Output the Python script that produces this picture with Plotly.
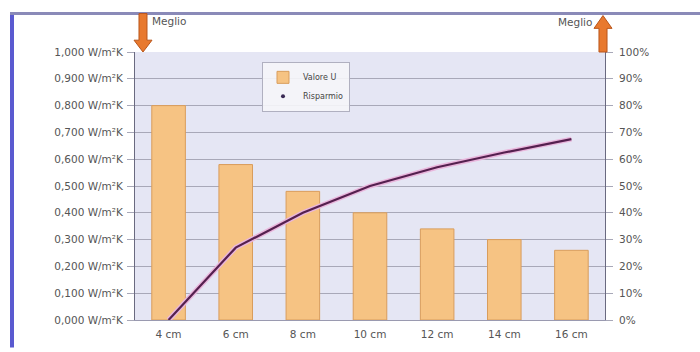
import plotly.graph_objects as go

# Insulation thickness vs. transmittance and savings
spessori = ["4 cm", "6 cm", "8 cm", "10 cm", "12 cm", "14 cm", "16 cm"]
valore_u = [0.80, 0.58, 0.48, 0.40, 0.34, 0.30, 0.26]          # W/m²K
risparmio = [0, 27, 40, 50, 57, 62.5, 67.5]                    # %

u_ticks = [0.0, 0.1, 0.2, 0.3, 0.4, 0.5, 0.6, 0.7, 0.8, 0.9, 1.0]
u_labels = ["0,000 W/m²K", "0,100 W/m²K", "0,200 W/m²K", "0,300 W/m²K",
            "0,400 W/m²K", "0,500 W/m²K", "0,600 W/m²K", "0,700 W/m²K",
            "0,800 W/m²K", "0,900 W/m²K", "1,000 W/m²K"]
pct_ticks = [0, 10, 20, 30, 40, 50, 60, 70, 80, 90, 100]
pct_labels = ["0%", "10%", "20%", "30%", "40%", "50%", "60%", "70%",
              "80%", "90%", "100%"]

W, H = 700, 352
L, R, T, B = 135, 95, 52, 28
PW, PH = W - L - R, H - T - B


def px(x, y):
    """Pixel position -> paper coordinates."""
    return (x - L) / PW, (H - B - y) / PH


def path(points):
    parts = []
    for i, (x, y) in enumerate(points):
        u, v = px(x, y)
        parts.append(("M" if i == 0 else "L") + f"{u:.4f},{v:.4f}")
    return " ".join(parts) + " Z"


FONT = "DejaVu Sans, Verdana, sans-serif"
axis_font = dict(family=FONT, size=10.5, color="#555")

fig = go.Figure()

fig.add_trace(go.Bar(
    x=spessori, y=valore_u, name="Valore U", width=0.5,
    marker=dict(color="#f6c383", line=dict(color="#d99d5c", width=1)),
    yaxis="y",
))
fig.add_trace(go.Scatter(
    x=spessori, y=risparmio, mode="lines", showlegend=False,
    line=dict(color="#e9b6dc", width=5), yaxis="y2", hoverinfo="skip",
))
fig.add_trace(go.Scatter(
    x=spessori, y=risparmio, mode="lines", name="Risparmio",
    showlegend=False, line=dict(color="#55204f", width=2.2), yaxis="y2",
))
fig.add_trace(go.Scatter(
    x=[None], y=[None], mode="markers", name="Risparmio",
    marker=dict(color="#3a2a55", size=4), yaxis="y2",
))

fig.update_layout(
    width=W, height=H,
    margin=dict(l=L, r=R, t=T, b=B),
    paper_bgcolor="white",
    plot_bgcolor="#e5e6f4",
    font=axis_font,
    xaxis=dict(
        type="category", showgrid=False, zeroline=False,
        showline=True, linecolor="#9a9ab0", linewidth=1,
        tickfont=axis_font, ticks="", ticklabelstandoff=4,
    ),
    yaxis=dict(
        range=[0, 1.0], tickvals=u_ticks, ticktext=u_labels,
        showgrid=True, gridcolor="#a8a8b8", gridwidth=1,
        showline=True, linecolor="#6a6a80", linewidth=1,
        ticks="outside", ticklen=7, tickcolor="#a8a8b8",
        zeroline=False, tickfont=axis_font, ticklabelstandoff=2,
    ),
    yaxis2=dict(
        range=[0, 100], tickvals=pct_ticks, ticktext=pct_labels,
        overlaying="y", side="right", showgrid=False,
        showline=True, linecolor="#6a6a80", linewidth=1,
        ticks="outside", ticklen=7, tickcolor="#a8a8b8",
        zeroline=False, tickfont=axis_font, ticklabelstandoff=4,
    ),
    legend=dict(
        x=(262 - L) / PW, y=px(0, 62)[1], xanchor="left", yanchor="top",
        bgcolor="rgba(245,245,250,0.9)", bordercolor="#b0b0c0", borderwidth=1,
        font=dict(family=FONT, size=8, color="#444"),
        itemwidth=30, tracegroupgap=0,
    ),
    showlegend=True,
)

shapes = []
# outer frame: blue left edge and top rule
x0, y0 = px(12, 13)
x1, y1 = px(12, 352)
shapes.append(dict(type="line", xref="paper", yref="paper", x0=x0, y0=y0,
                   x1=x1, y1=y1, line=dict(color="#5a5ad0", width=4)))
x0, y0 = px(10, 13)
x1, y1 = px(700, 13)
shapes.append(dict(type="line", xref="paper", yref="paper", x0=x0, y0=y0,
                   x1=x1, y1=y1, line=dict(color="#8a8ab8", width=3)))

# "better" arrows: down on the left axis, up on the right axis
down = [(139, 13), (147, 13), (147, 40), (152, 40), (143, 52), (134, 40), (139, 40)]
up = [(599, 52), (607, 52), (607, 28), (612, 28), (603, 15), (594, 28), (599, 28)]
for pts in (down, up):
    shapes.append(dict(type="path", xref="paper", yref="paper", path=path(pts),
                       fillcolor="#e8792e", line=dict(color="#b9561c", width=1),
                       layer="above"))
fig.update_layout(shapes=shapes)

label_font = dict(family=FONT, size=10.5, color="#555")
lx, ly = px(150, 21)
fig.add_annotation(x=lx, y=ly, xref="paper", yref="paper", text="Meglio",
                   showarrow=False, xanchor="left", yanchor="middle", font=label_font)
rx, ry = px(594, 22)
fig.add_annotation(x=rx, y=ry, xref="paper", yref="paper", text="Meglio",
                   showarrow=False, xanchor="right", yanchor="middle", font=label_font)

fig.write_html("out.html")
